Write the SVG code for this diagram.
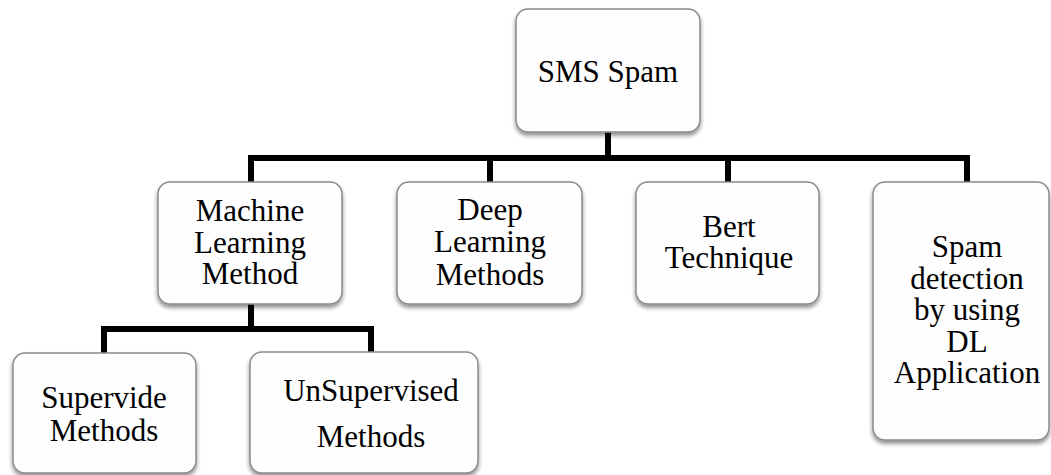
<svg xmlns="http://www.w3.org/2000/svg" width="1051" height="475" viewBox="0 0 1051 475">
  <defs>
    <filter id="shadow" x="-10%" y="-10%" width="120%" height="130%">
      <feGaussianBlur in="SourceAlpha" stdDeviation="2.2"/>
      <feOffset dx="0" dy="3" result="blur"/>
      <feComponentTransfer><feFuncA type="linear" slope="0.45"/></feComponentTransfer>
      <feMerge><feMergeNode/><feMergeNode in="SourceGraphic"/></feMerge>
    </filter>
  </defs>
  <style>
    .box { fill: #fefefe; stroke: #8a8a8a; stroke-width: 1.5; filter: url(#shadow); }
    .lbl { font-size: 31px; fill: #000; text-anchor: middle; }
    .wire { fill: none; stroke: #000; stroke-width: 6; stroke-linejoin: miter; stroke-linecap: butt; }
  </style>
  <rect width="1051" height="475" fill="#ffffff"/>

  <g id="connectors">
    <path class="wire" d="M608 132 V158"/>
    <path class="wire" d="M251 182 V158 H967 V182"/>
    <path class="wire" d="M490 158 V182"/>
    <path class="wire" d="M728 158 V182"/>
    <path class="wire" d="M251 304 V329"/>
    <path class="wire" d="M104 353 V329 H371 V352"/>
  </g>

  <g id="nodes" font-family="Liberation Serif, Times New Roman, Times, Tinos, Nimbus Roman, FreeSerif, Noto Serif, DejaVu Serif, serif">
  <g id="sms-spam">
    <rect class="box" x="516" y="9" width="184" height="123" rx="12"/>
    <text class="lbl" x="608" y="82">SMS Spam</text>
  </g>

  <g id="machine-learning">
    <rect class="box" x="158" y="182" width="184" height="122" rx="12"/>
    <text class="lbl" x="250" y="221">Machine</text>
    <text class="lbl" x="250" y="252.5">Learning</text>
    <text class="lbl" x="250" y="284">Method</text>
  </g>

  <g id="deep-learning">
    <rect class="box" x="397" y="182" width="185" height="122" rx="12"/>
    <text class="lbl" x="490" y="220">Deep</text>
    <text class="lbl" x="490" y="252">Learning</text>
    <text class="lbl" x="490" y="285">Methods</text>
  </g>

  <g id="bert">
    <rect class="box" x="636" y="182" width="183" height="122" rx="12"/>
    <text class="lbl" x="729" y="237">Bert</text>
    <text class="lbl" x="729" y="268">Technique</text>
  </g>

  <g id="spam-detection">
    <rect class="box" x="873" y="182" width="176" height="258" rx="12"/>
    <text class="lbl" x="967" y="257">Spam</text>
    <text class="lbl" x="967" y="288.5">detection</text>
    <text class="lbl" x="967" y="320">by using</text>
    <text class="lbl" x="967" y="351.5">DL</text>
    <text class="lbl" x="967" y="383">Application</text>
  </g>

  <g id="supervised">
    <rect class="box" x="13" y="353" width="183" height="120" rx="12"/>
    <text class="lbl" x="104" y="408">Supervide</text>
    <text class="lbl" x="104" y="441">Methods</text>
  </g>

  <g id="unsupervised">
    <rect class="box" x="250" y="352" width="228" height="121" rx="12"/>
    <text class="lbl" x="371" y="401">UnSupervised</text>
    <text class="lbl" x="371" y="447">Methods</text>
  </g>
  </g>
</svg>
